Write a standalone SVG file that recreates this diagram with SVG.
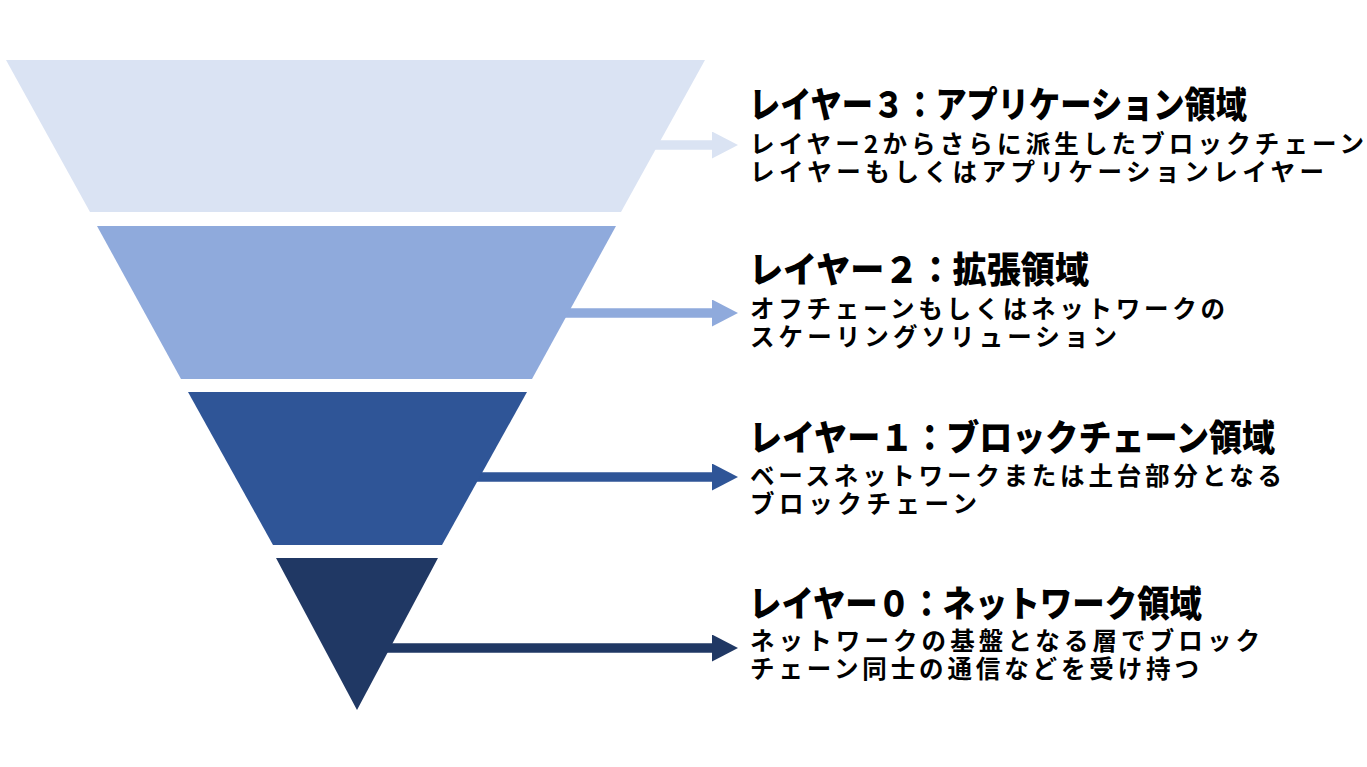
<svg xmlns="http://www.w3.org/2000/svg" width="1367" height="767" viewBox="0 0 1367 767">
<style>
.title{font-family:"Noto Sans CJK JP","Noto Sans CJK SC",sans-serif;font-weight:900;font-size:36px;fill:#000}
.body{font-family:"Noto Sans CJK JP","Noto Sans CJK SC",sans-serif;font-weight:700;font-size:24.5px;fill:#000}
.c3{fill:#DAE3F3}.c2{fill:#8FAADC}.c1{fill:#2F5597}.c0{fill:#203864}
.conn line{stroke-width:9.5;fill:none}
</style>
<defs>
<marker id="a3" markerUnits="userSpaceOnUse" markerWidth="26" markerHeight="27" refX="0" refY="13.5" orient="auto"><path d="M0,0 L26,13.5 L0,27 Z" fill="#DAE3F3"/></marker>
<marker id="a2" markerUnits="userSpaceOnUse" markerWidth="26" markerHeight="27" refX="0" refY="13.5" orient="auto"><path d="M0,0 L26,13.5 L0,27 Z" fill="#8FAADC"/></marker>
<marker id="a1" markerUnits="userSpaceOnUse" markerWidth="26" markerHeight="27" refX="0" refY="13.5" orient="auto"><path d="M0,0 L26,13.5 L0,27 Z" fill="#2F5597"/></marker>
<marker id="a0" markerUnits="userSpaceOnUse" markerWidth="26" markerHeight="27" refX="0" refY="13.5" orient="auto"><path d="M0,0 L26,13.5 L0,27 Z" fill="#203864"/></marker>
</defs>
<rect width="1367" height="767" fill="#fff"/>
<g id="connectors" class="conn">
<line x1="640" y1="145" x2="712" y2="145" stroke="#DAE3F3" marker-end="url(#a3)"/>
<line x1="560" y1="313" x2="712" y2="313" stroke="#8FAADC" marker-end="url(#a2)"/>
<line x1="470" y1="477" x2="712" y2="477" stroke="#2F5597" marker-end="url(#a1)"/>
<line x1="380" y1="648" x2="712" y2="648" stroke="#203864" marker-end="url(#a0)"/>
</g>
<g id="layer3">
<polygon class="c3" points="6,60 705,60 621,212 90,212"/>
<text class="title" x="749" y="118" textLength="498" lengthAdjust="spacingAndGlyphs">レイヤー３：アプリケーション領域</text>
<text class="body" x="750" y="153" textLength="614" lengthAdjust="spacing">レイヤー2からさらに派生したブロックチェーン</text>
<text class="body" x="750" y="181" textLength="574" lengthAdjust="spacing">レイヤーもしくはアプリケーションレイヤー</text>
</g>
<g id="layer2">
<polygon class="c2" points="97,226 616,226 532,379 181,379"/>
<text class="title" x="749" y="283" textLength="340" lengthAdjust="spacingAndGlyphs">レイヤー２：拡張領域</text>
<text class="body" x="750" y="318" textLength="475" lengthAdjust="spacing">オフチェーンもしくはネットワークの</text>
<text class="body" x="750" y="346" textLength="367" lengthAdjust="spacing">スケーリングソリューション</text>
</g>
<g id="layer1">
<polygon class="c1" points="188,392 527,392 442,545 273,545"/>
<text class="title" x="749" y="451" textLength="526" lengthAdjust="spacingAndGlyphs">レイヤー１：ブロックチェーン領域</text>
<text class="body" x="750" y="485" textLength="532" lengthAdjust="spacing">ベースネットワークまたは土台部分となる</text>
<text class="body" x="750" y="513" textLength="227" lengthAdjust="spacing">ブロックチェーン</text>
</g>
<g id="layer0">
<polygon class="c0" points="276,558 438,558 357,710"/>
<text class="title" x="749" y="617" textLength="453" lengthAdjust="spacingAndGlyphs">レイヤー０：ネットワーク領域</text>
<text class="body" x="750" y="650" textLength="510" lengthAdjust="spacing">ネットワークの基盤となる層でブロック</text>
<text class="body" x="750" y="678" textLength="449" lengthAdjust="spacing">チェーン同士の通信などを受け持つ</text>
</g>
</svg>
